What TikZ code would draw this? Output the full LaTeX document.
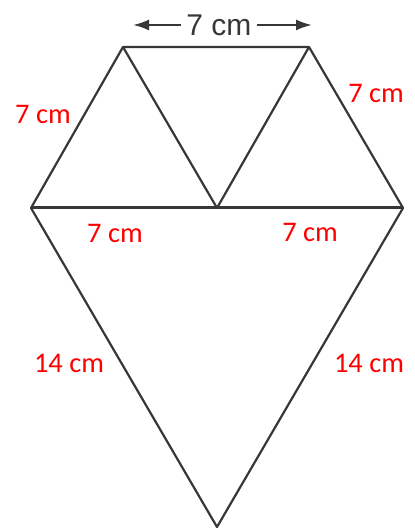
\documentclass[tikz,border=0pt]{standalone}
\usepackage{fontspec}
\setmainfont{Carlito}
\newfontfamily\labelfont{Liberation Sans}
\usetikzlibrary{arrows.meta}
\definecolor{edgegray}{RGB}{55, 55, 55}
\definecolor{lenred}{RGB}{255, 0, 0}

\begin{document}
\begin{tikzpicture}[x=0.5pt, y=0.5pt, >={Latex[length=8pt, width=5.5pt]},
    edge/.style={edgegray, line width=1.1pt, line join=round},
    len/.style={text=lenred, font=\fontsize{14.2}{16}\selectfont, inner sep=0pt}]
    \useasboundingbox (0, 0) rectangle (414, 528);
    % vertices
    \coordinate (tl) at (123, 481);
    \coordinate (tr) at (309, 481);
    \coordinate (lft) at (31, 320);
    \coordinate (mid) at (217, 320);
    \coordinate (rgt) at (403, 320);
    \coordinate (bot) at (217, 1);
    % kite outline and inner triangles
    \draw[edge] (tl) -- (tr) -- (rgt) -- (bot) -- (lft) -- cycle;
    \draw[edge] (tl) -- (mid) -- (tr);
    \draw[edge, line width=1.5pt] (lft) -- (rgt);
    % top dimension
    \node[font=\labelfont\fontsize{15}{17}\selectfont, text=edgegray, inner sep=2.5pt] (toplen) at (219, 503) {7 cm};
    \coordinate (topl) at (133, 503);
    \coordinate (topr) at (312, 503);
    \draw[->, line width=1.1pt, edgegray] (toplen.west) -- (topl);
    \draw[->, line width=1.1pt, edgegray] (toplen.east) -- (topr);
    % side lengths
    \node[len] (sideL) at (43, 414) {7 cm};
    \node[len] (sideR) at (376, 435) {7 cm};
    \node[len] (baseL) at (115, 295) {7 cm};
    \node[len] (baseR) at (310, 296) {7 cm};
    \node[len] (longL) at (69, 165) {14 cm};
    \node[len] (longR) at (369, 165) {14 cm};
  \end{tikzpicture}
\end{document}
